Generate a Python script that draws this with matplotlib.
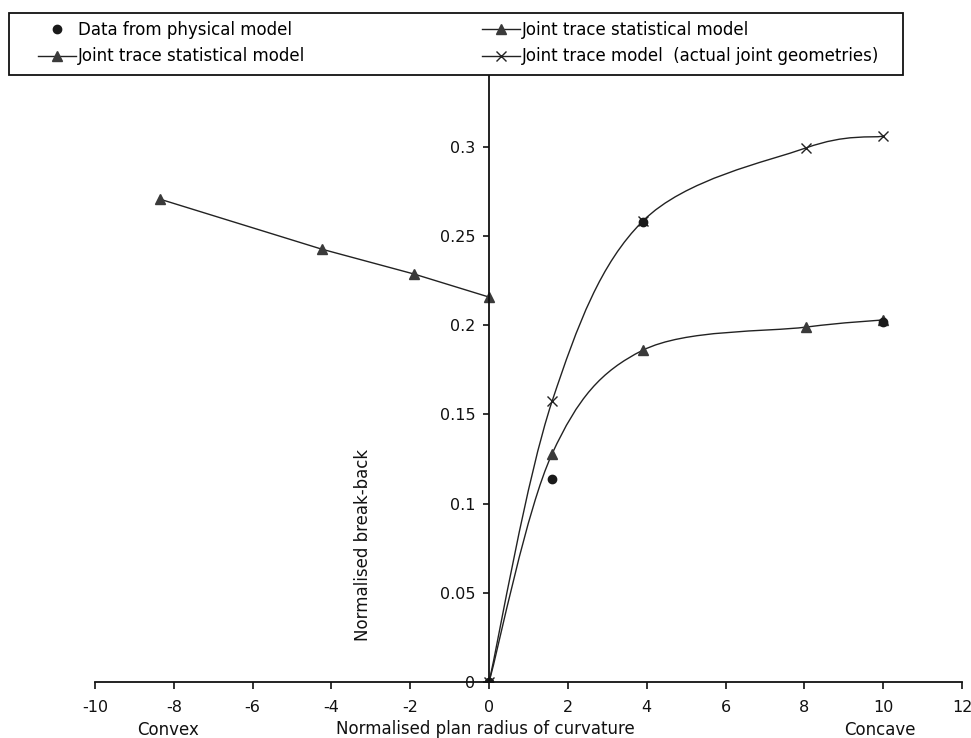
import numpy as np
import matplotlib
matplotlib.use('Agg')
import matplotlib.pyplot as plt
from matplotlib.path import Path
from matplotlib.patches import PathPatch, Rectangle
from matplotlib.lines import Line2D

plt.rcParams['font.family'] = ['DejaVu Sans']

# ── data ──
convex_x = [-8.35, -4.25, -1.9, 0.0]
convex_y = [0.2707, 0.2427, 0.2287, 0.2158]

stat_x = [0.0, 1.6, 3.9, 8.05, 10.0]
stat_y = [0.0, 0.128, 0.186, 0.199, 0.203]

actual_x = [0.0, 1.6, 3.9, 8.05, 10.0]
actual_y = [0.0, 0.1575, 0.2584, 0.2995, 0.306]

phys_x = [0.0, 1.6, 3.9, 10.0]
phys_y = [0.0, 0.114, 0.258, 0.202]

x_ticks = list(range(-10, 13, 2))
y_ticks = [0, 0.05, 0.1, 0.15, 0.2, 0.25, 0.3]
y_tick_labels = ['0', '0.05', '0.1', '0.15', '0.2', '0.25', '0.3']


def smooth_path(xs, ys):
    # Excel-like smoothed line: Catmull-Rom segments as cubic Beziers
    pts = np.column_stack([xs, ys])
    n = len(pts)
    verts = [pts[0]]
    codes = [Path.MOVETO]
    for i in range(n - 1):
        p0 = pts[i - 1] if i > 0 else pts[i]
        p1 = pts[i]
        p2 = pts[i + 1]
        p3 = pts[i + 2] if i + 2 < n else pts[i + 1]
        c1 = p1 + (p2 - p0) / 6.0
        c2 = p2 - (p3 - p1) / 6.0
        verts += [c1, c2, p2]
        codes += [Path.CURVE4] * 3
    return Path(verts, codes)


W, H = 971, 738
fig = plt.figure(figsize=(W / 100, H / 100), dpi=100)
ax = fig.add_axes([95 / W, 1 - 682 / H, 867 / W, 610 / H])

tri_col = '#3a3a3a'
line_col = '#222222'

ax.plot(convex_x, convex_y, color=line_col, lw=1.0, marker='^',
        markersize=7, markerfacecolor=tri_col, markeredgecolor=tri_col)

for xs, ys in [(stat_x, stat_y), (actual_x, actual_y)]:
    ax.add_patch(PathPatch(smooth_path(xs, ys), facecolor='none',
                           edgecolor=line_col, lw=1.0))

ax.plot(stat_x, stat_y, ls='none', marker='^', markersize=7,
        markerfacecolor=tri_col, markeredgecolor=tri_col)
ax.plot(actual_x, actual_y, ls='none', marker='x', markersize=7,
        color=line_col, markeredgewidth=1.0)
ax.plot(phys_x, phys_y, ls='none', marker='o', markersize=6,
        color='#1a1a1a')

ax.set_xlim(-10, 12)
ax.set_ylim(0, 0.342)
ax.set_xticks(x_ticks)
ax.set_xticklabels([str(t) for t in x_ticks])
ax.set_yticks(y_ticks)
ax.set_yticklabels(y_tick_labels)

ax.spines['left'].set_position(('data', 0))
ax.spines['bottom'].set_position(('data', 0))
ax.spines['top'].set_visible(False)
ax.spines['right'].set_visible(False)
for s in ['left', 'bottom']:
    ax.spines[s].set_linewidth(1.3)
    ax.spines[s].set_color('#111111')

ax.tick_params(axis='x', direction='out', length=5, width=1.2,
               labelsize=11.5, pad=8, colors='#111111')
ax.tick_params(axis='y', direction='out', length=4, width=1.2,
               labelsize=11.5, pad=6, colors='#111111')

ax.text(-3.2, 0.077, 'Normalised break-back', rotation=90,
        ha='center', va='center', fontsize=12, color='#111111')
fig.text(485 / W, 1 - 729 / H, 'Normalised plan radius of curvature',
         ha='center', va='center', fontsize=12, color='#111111')
fig.text(168 / W, 1 - 730 / H, 'Convex', ha='center', va='center',
         fontsize=12, color='#111111')
fig.text(880 / W, 1 - 730 / H, 'Concave', ha='center', va='center',
         fontsize=12, color='#111111')

# legend: two frameless columns inside one drawn box
fig.patches.append(Rectangle((9 / W, 1 - 75 / H), 894 / W, 62 / H,
                             transform=fig.transFigure, facecolor='white',
                             edgecolor='#111111', lw=1.3, zorder=5))

col1 = [
    (Line2D([], [], ls='none', marker='o', markersize=6, color='#1a1a1a'),
     'Data from physical model'),
    (Line2D([], [], color=line_col, lw=1.0, marker='^', markersize=7,
            markerfacecolor=tri_col, markeredgecolor=tri_col),
     'Joint trace statistical model'),
]
col2 = [
    (Line2D([], [], color=line_col, lw=1.0, marker='^', markersize=7,
            markerfacecolor=tri_col, markeredgecolor=tri_col),
     'Joint trace statistical model'),
    (Line2D([], [], color=line_col, lw=1.0, marker='x', markersize=7),
     'Joint trace model  (actual joint geometries)'),
]
for items, x0 in [(col1, 38), (col2, 482)]:
    leg = fig.legend([h for h, _ in items], [t for _, t in items],
                     loc='upper left', bbox_to_anchor=(x0 / W, 1 - 21 / H),
                     frameon=False, fontsize=12, handlelength=2.25,
                     handletextpad=0.15, borderpad=0, borderaxespad=0,
                     labelspacing=0.5)
    leg.set_zorder(6)

fig.savefig('out.png', dpi=100)
